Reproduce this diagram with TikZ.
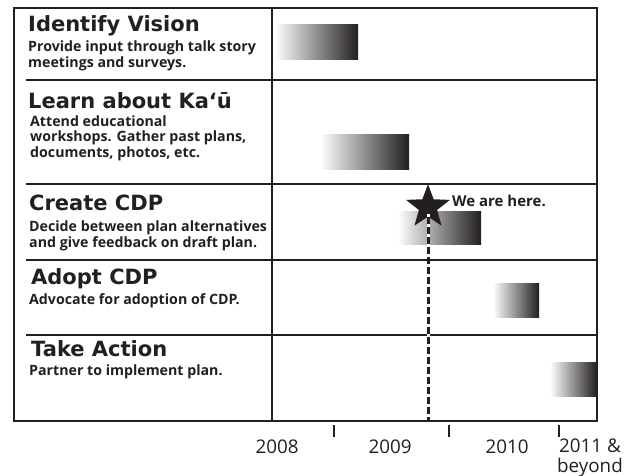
\documentclass[tikz,border=0pt]{standalone}
\usepackage{fontspec}
\setmainfont{Open Sans}
\newfontfamily\heavyfont{DejaVu Sans}
\usetikzlibrary{shapes.geometric}
\definecolor{ink}{HTML}{231F20}

\tikzset{
  frame/.style={draw=ink,line width=1.6pt},
  bar/.style={left color=white,right color=ink},
  stage/.style={anchor=base west,inner sep=0,text=ink,font=\heavyfont\bfseries\fontsize{21}{22}\selectfont},
  note/.style={anchor=base west,inner sep=0,text=ink,align=left,font=\bfseries\fontsize{14.2}{15.5}\selectfont},
  year/.style={anchor=base,inner sep=0,text=ink,align=center,font=\fontsize{18.8}{20}\selectfont}
}

\begin{document}
\begin{tikzpicture}[x=1pt,y=-1pt]
  \useasboundingbox (0,0) rectangle (631,475);
  % table
  \draw[frame] (14,8) rectangle (597,421);
  \draw[frame] (272,8) -- (272,421);
  \foreach \y in {80,184,260,335}
    \draw[frame] (26,\y) -- (597,\y);

  % time bars
  \shade[bar] (275,24) rectangle (358,59);
  \shade[bar] (320,134) rectangle (409,169);
  \shade[bar] (398,211) rectangle (481,244);
  \shade[bar] (493,283) rectangle (539,317);
  \shade[bar] (550,362) rectangle (597,396);

  % stages (notes sit on the baseline of their last line)
  \node[stage] (vision) at (28,31) {Identify Vision};
  \node[note] (visiontxt) at (28,67) {Provide input through talk story\\meetings and surveys.};
  \node[stage] (learn) at (28,108) {Learn about Ka‘ū};
  \node[note] (learntxt) at (30,157) {Attend educational\\workshops. Gather past plans,\\documents, photos, etc.};
  \node[stage] (create) at (29,210) {Create CDP};
  \node[note] (createtxt) at (29,247) {Decide between plan alternatives\\and give feedback on draft plan.};
  \node[stage] (adopt) at (31,284) {Adopt CDP};
  \node[note] (adopttxt) at (29,304) {Advocate for adoption of CDP.};
  \node[stage] (action) at (31,356) {Take Action};
  \node[note] (actiontxt) at (29,375) {Partner to implement plan.};

  % we are here
  \coordinate (now) at (428,421);
  \node[star,star points=5,star point ratio=2.4,minimum size=46pt,inner sep=0,fill=ink] (here) at (428,207) {};
  \draw[white,line width=3pt] (here.center) -- (now);
  \draw[ink,line width=3pt,dash pattern=on 7pt off 3pt] (here.center) -- (now);
  \node[anchor=base west,inner sep=0,text=ink,font=\bfseries\fontsize{15}{16}\selectfont] (heretxt) at (452,206) {We are here.};

  % years
  \foreach \x in {334,449,559}
    \draw[ink,line width=1.2pt] (\x,425) -- (\x,437);
  \node[year] (y2008) at (277,453) {2008};
  \node[year] (y2009) at (390,453) {2009};
  \node[year] (y2010) at (507,453) {2010};
  \node[year] (y2011) at (590,472) {2011 \&\\beyond};
\end{tikzpicture}
\end{document}
